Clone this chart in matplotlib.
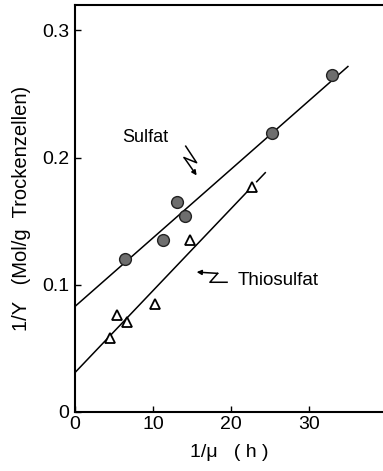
import numpy as np
import matplotlib.pyplot as plt

plt.rcParams['font.family'] = ['Liberation Sans', 'DejaVu Sans']

# Sulfat (filled circles)
sulfat_x = [6.4, 11.3, 13.1, 14.1, 25.3, 33.0]
sulfat_y = [0.120, 0.135, 0.165, 0.154, 0.219, 0.265]
# Thiosulfat (open triangles)
thio_x = [4.5, 5.4, 6.7, 10.3, 14.7, 22.7]
thio_y = [0.058, 0.076, 0.071, 0.085, 0.135, 0.177]

# fitted lines: intercept, slope, end of solid part, end of dashed part
sulfat_fit = (0.083, 0.00539, 33.0, 35.0)
thio_fit = (0.031, 0.00644, 22.7, 24.4)

xticks = [0, 10, 20, 30]
yticks = [0, 0.1, 0.2, 0.3]
yticklabels = ['0', '0.1', '0.2', '0.3']

fig = plt.figure(figsize=(3.83, 4.71), dpi=100)
ax = fig.add_axes([75 / 383, 59 / 471, 1 - 75 / 383, 407 / 471])

for b, m, x_solid, x_end in (sulfat_fit, thio_fit):
    xs = np.array([0, x_solid])
    ax.plot(xs, b + m * xs, color='black', lw=1.1, zorder=2)
    xd = np.array([x_solid + 0.6, x_end])
    ax.plot(xd, b + m * xd, color='black', lw=1.1, zorder=2)

ax.plot(sulfat_x, sulfat_y, 'o', ms=8.5, mfc='#6e6e6e', mec='#222222', mew=1.0, zorder=3)
ax.plot(thio_x, thio_y, '^', ms=7.5, mfc='white', mec='black', mew=1.3, zorder=3)

# labels with zigzag arrows
ax.text(9.0, 0.216, 'Sulfat', ha='center', va='center', fontsize=13)
ax.plot([14.2, 15.6, 14.0], [0.209, 0.196, 0.200], color='black', lw=1.1)
ax.annotate('', xy=(15.6, 0.186), xytext=(14.0, 0.200),
            arrowprops=dict(arrowstyle='-|>', color='black', lw=1.1, mutation_scale=7,
                            shrinkA=0, shrinkB=0))
ax.text(20.8, 0.103, 'Thiosulfat', ha='left', va='center', fontsize=13.5)
ax.plot([19.5, 17.3, 18.3], [0.102, 0.102, 0.109], color='black', lw=1.1)
ax.annotate('', xy=(15.6, 0.110), xytext=(18.3, 0.109),
            arrowprops=dict(arrowstyle='-|>', color='black', lw=1.1, mutation_scale=7,
                            shrinkA=0, shrinkB=0))

ax.set_xlim(0, 39.5)
ax.set_ylim(0, 0.32)
ax.set_xticks(xticks)
ax.set_yticks(yticks)
ax.set_yticklabels(yticklabels)
ax.tick_params(direction='in', length=4, width=1, labelsize=14)
ax.tick_params(axis='x', pad=3)
ax.tick_params(axis='y', pad=4)
ax.spines['right'].set_visible(False)
for s in ('left', 'bottom', 'top'):
    ax.spines[s].set_linewidth(1.5)

ax.set_xlabel('1/\u03bc   ( h )', fontsize=14, labelpad=8)
ax.set_ylabel('1/Y   (Mol/g  Trockenzellen)', fontsize=14.5, labelpad=8)

fig.savefig('out.png', dpi=100)
